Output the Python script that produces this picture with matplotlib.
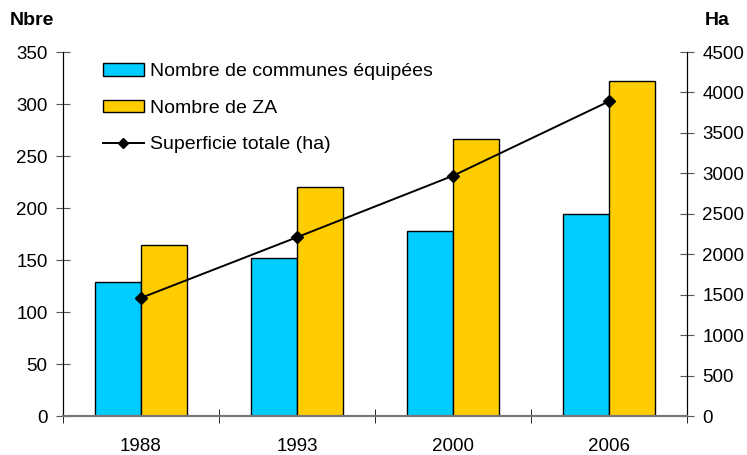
import matplotlib
matplotlib.use('Agg')
import matplotlib.pyplot as plt
import numpy as np

plt.rcParams['font.family'] = ['Liberation Sans', 'DejaVu Sans']

years = ["1988", "1993", "2000", "2006"]
communes = [129, 152, 178, 194]
za = [164, 220, 266, 322]
superficie = [1460, 2210, 2970, 3890]

fig = plt.figure(figsize=(7.47, 4.55), dpi=100)
ax = fig.add_axes([0.0843, 0.0857, 0.8354, 0.800])
ax2 = ax.twinx()

x = np.arange(len(years)); w = 0.295
b1 = ax.bar(x - w/2, communes, w, color="#00CCFF", edgecolor="black", linewidth=1,
            label="Nombre de communes équipées", zorder=2)
b2 = ax.bar(x + w/2, za, w, color="#FFCC00", edgecolor="black", linewidth=1,
            label="Nombre de ZA", zorder=2)
ln, = ax2.plot(x, superficie, color="black", marker="D", markersize=6, linewidth=1.4,
               label="Superficie totale (ha)")

ax.set_xlim(-0.5, 3.5)
ax.set_ylim(0, 350)
ax2.set_ylim(0, 4500)
ax.set_yticks(range(0, 351, 50))
ax2.set_yticks(range(0, 4501, 500))

ax.set_xticks(x)
ax.set_xticklabels(years, fontsize=13.5)
ax.set_xticks(np.arange(-0.5, 4, 1), minor=True)
ax.tick_params(axis="x", which="major", length=0, pad=16)
ax.tick_params(axis="x", which="minor", direction="inout", length=10, color="black")
ax.tick_params(axis="y", direction="inout", length=10, labelsize=13.5, pad=6, color="#555555")
ax2.tick_params(axis="y", direction="inout", length=10, labelsize=13.5, pad=6, color="#555555")

for a in (ax, ax2):
    a.spines["top"].set_visible(False)
    a.spines["left"].set_color("black")
    a.spines["right"].set_color("black")
    a.spines["bottom"].set_color("#777777")
    a.spines["bottom"].set_linewidth(1.5)

fig.text(0.013, 0.955, "Nbre", fontsize=14, fontweight="bold", va="center")
fig.text(0.943, 0.955, "Ha", fontsize=14, fontweight="bold", va="center")

ax2.legend([b1, b2, ln], [b1.get_label(), b2.get_label(), ln.get_label()],
           loc="upper left", bbox_to_anchor=(0.1379, 0.861), bbox_transform=fig.transFigure,
           frameon=False, fontsize=14, borderpad=0, borderaxespad=0,
           handlelength=2.1, handleheight=0.6, handletextpad=0.3, labelspacing=1.0,
           markerscale=0.8)

fig.savefig("out.png", dpi=100)
